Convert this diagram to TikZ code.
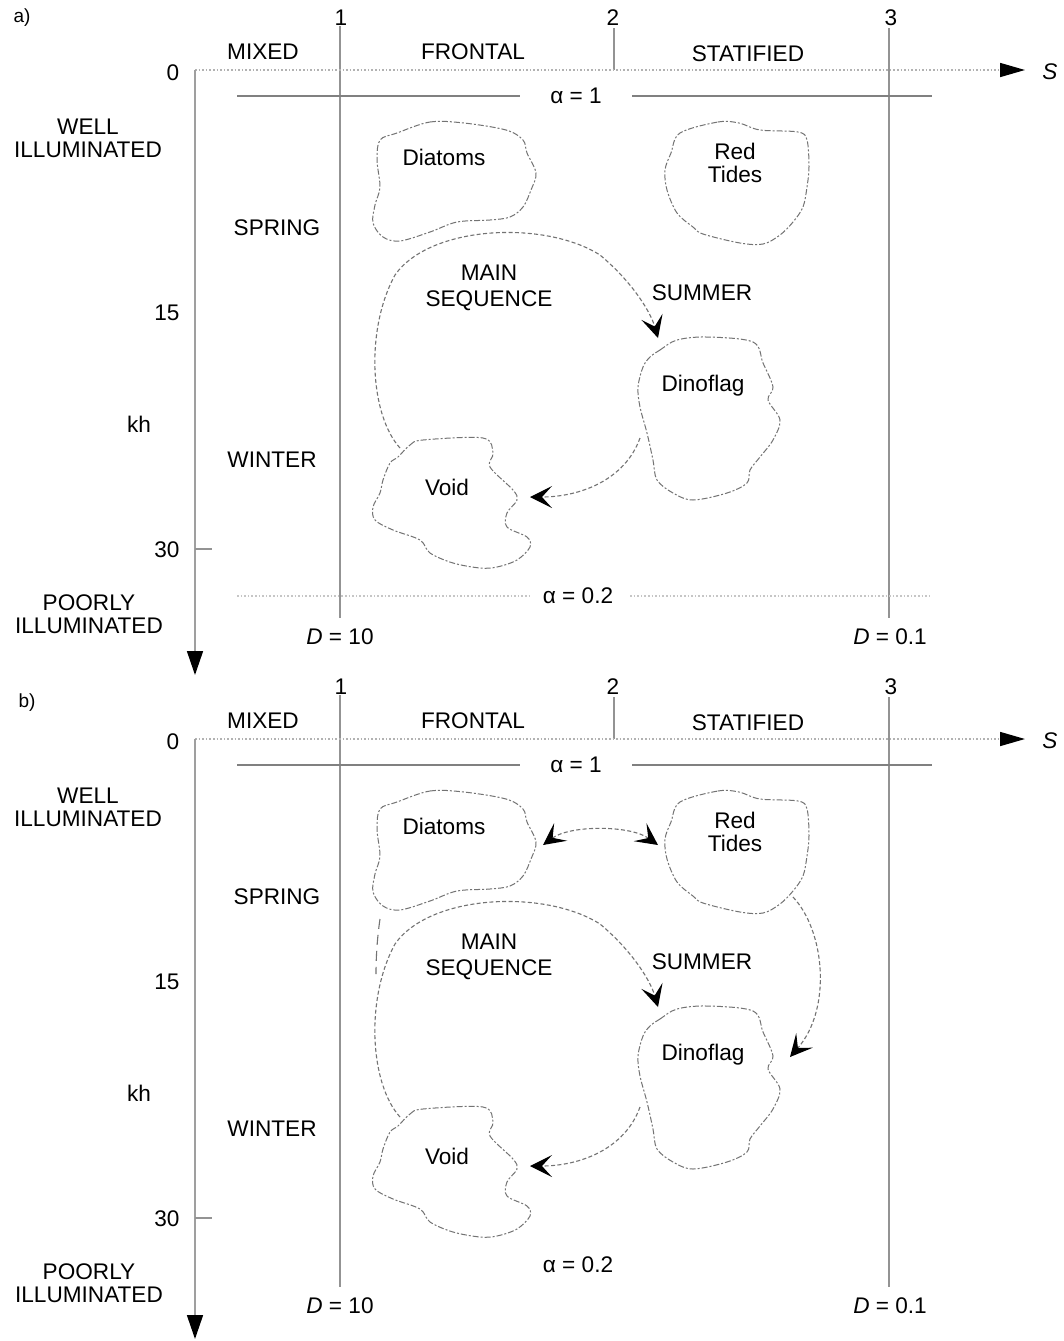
\documentclass[tikz,border=0pt]{standalone}
\usepackage{fontspec}
\setmainfont{Liberation Sans}
\usetikzlibrary{arrows.meta}
\tikzset{
  lab/.style={font=\fontsize{11.3}{11.5}\selectfont, inner sep=0pt, align=center},
  small/.style={font=\fontsize{9.5}{10}\selectfont, inner sep=0pt},
  gridline/.style={draw=gray!85, line width=0.6pt},
  axdot/.style={draw=gray!60, line width=0.8pt, densely dotted},
  axsolid/.style={draw=gray!75, line width=0.8pt},
  blob/.style={draw=gray!90!black, line width=0.5pt, dash pattern=on 3pt off 1pt on 1pt off 1pt},
  vtip/.tip={Stealth[length=11pt,width=11pt,inset=5pt,line width=0.6pt,color=black]},
  flow/.style={draw=gray!90!black, line width=0.55pt, dash pattern=on 2pt off 1.2pt},
}
\newcommand\drawpanel[5]{%
  % #1 suffix, #2 panel label, #3,#4 label position, #5 axis end
  \node[small] (pl#1) at (#3,#4) {#2};
  \node[lab] (n1#1) at (341,18) {1};
  \node[lab] (n2#1) at (613,18) {2};
  \node[lab] (n3#1) at (891,18) {3};
  \node[lab] (mixed#1) at (263,52) {MIXED};
  \node[lab] (frontal#1) at (473,52) {FRONTAL};
  \node[lab] (strat#1) at (748,54) {STATIFIED};
  \node[lab] (zero#1) at (173,73) {0};
  \node[lab] (fifteen#1) at (167,313) {15};
  \node[lab] (thirty#1) at (167,550) {30};
  \node[lab] (kh#1) at (139,424) {kh};
  \node[lab] (well#1) at (88,138) {WELL\\ILLUMINATED};
  \node[lab] (poor#1) at (89,614) {POORLY\\ILLUMINATED};
  \node[lab] (spring#1) at (277,228) {SPRING};
  \node[lab] (winter#1) at (272,460) {WINTER};
  \node[lab] (summer#1) at (702,293) {SUMMER};
  \node[lab, font=\fontsize{11.3}{13}\selectfont] (mainseq#1) at (489,288) {MAIN\\SEQUENCE};
  \node[lab] (d10#1) at (340,637) {\textit{D} = 10};
  \node[lab] (d01#1) at (890,637) {\textit{D} = 0.1};
  \node[lab] (S#1) at (1050,72) {\textit{S}};
  \node[lab] (a1#1) at (576,96) {α = 1};
  \node[lab] (a02#1) at (578,596) {α = 0.2};
  % grid lines
  \coordinate (g1t#1) at (340,26); \coordinate (g1b#1) at (340,618);
  \coordinate (g2t#1) at (614,28); \coordinate (g2b#1) at (614,70);
  \coordinate (g3t#1) at (889,28); \coordinate (g3b#1) at (889,618);
  \draw[gridline] (g1t#1) -- (g1b#1);
  \draw[gridline] (g2t#1) -- (g2b#1);
  \draw[gridline] (g3t#1) -- (g3b#1);
  % axes
  \coordinate (O#1) at (195,70);
  \coordinate (Sx#1) at (1025,70);
  \coordinate (Ky#1) at (195,#5);
  \draw[axdot, -{Triangle[length=12.5pt,width=7pt,color=black]}] (O#1) -- (Sx#1);
  \draw[axsolid, -{Triangle[length=12pt,width=8pt,color=black]}] (O#1) -- (Ky#1);
  \coordinate (t30a#1) at (195,549); \coordinate (t30b#1) at (212,549);
  \draw[gridline] (t30a#1) -- (t30b#1);
  % alpha = 1 line
  \coordinate (al1#1) at (237,96); \coordinate (al2#1) at (520,96);
  \coordinate (al3#1) at (632,96); \coordinate (al4#1) at (932,96);
  \draw[gridline, draw=gray] (al1#1) -- (al2#1) (al3#1) -- (al4#1);
  % blobs
  \draw[blob] plot[smooth cycle, tension=0.55] coordinates {(397,133) (430,122) (464,123) (506,130) (523,140) (527,153) (536,173) (531,190) (523,207) (510,217) (490,220) (457,222) (430,232) (400,241) (383,237) (373,223) (375,205) (380,187) (377,160) (380,140)};
  \draw[blob] plot[smooth cycle, tension=0.55] coordinates {(680,133) (718,122) (739,123) (760,130) (798,132) (807,140) (809,167) (807,187) (803,207) (793,222) (780,235) (763,244) (740,243) (703,234) (693,227) (677,213) (667,190) (665,170) (671,153)};
  \draw[blob] plot[smooth cycle, tension=0.55] coordinates {(650,357) (660,350) (677,340) (707,337) (753,342) (763,363) (773,387) (768,400) (780,420) (773,440) (760,457) (750,470) (747,483) (727,493) (693,500) (673,493) (657,480) (653,460) (647,433) (640,407) (638,387) (643,367)};
  \draw[blob] plot[smooth cycle, tension=0.55] coordinates {(398,457) (410,445) (423,440) (483,438) (493,453) (490,467) (513,490) (517,500) (507,513) (507,527) (527,537) (530,547) (517,560) (497,567) (480,568) (453,563) (430,553) (420,540) (393,530) (375,520) (373,507) (380,493) (383,480) (390,463)};
  \node[lab] (dia#1) at (444,157) {Diatoms};
  \node[lab] (red#1) at (735,163) {Red\\Tides};
  \node[lab] (dino#1) at (703,386) {Dinoflag};
  \node[lab] (void#1) at (447,487) {Void};
  % main sequence
  \coordinate (ms0#1) at (400,448);
  \coordinate (ms1#1) at (658,338);
  \draw[flow, -vtip] (ms0#1) .. controls (370,415) and (365,330) .. (395,275)
     .. controls (430,225) and (545,220) .. (600,255)
     .. controls (630,280) and (650,310) .. (ms1#1);
  \coordinate (dv0#1) at (640,438);
  \coordinate (dv1#1) at (530,497);
  \draw[flow, -vtip] (dv0#1) .. controls (625,480) and (580,497) .. (dv1#1);
}
\begin{document}
\begin{tikzpicture}[x=0.5pt,y=-0.5pt]
\useasboundingbox (0,0) rectangle (1064,1341);
\fill[white] (0,0) rectangle (1064,1341);
\drawpanel{A}{a)}{22}{18}{675}
\coordinate (b1A) at (237,596); \coordinate (b2A) at (530,596);
\coordinate (b3A) at (630,596); \coordinate (b4A) at (932,596);
\draw[axdot, draw=gray!45] (b1A) -- (b2A) (b3A) -- (b4A);
\begin{scope}[shift={(0,669)}]
\drawpanel{B}{b)}{27}{34}{670}
\coordinate (dr0) at (543,176);
\coordinate (dr1) at (658,176);
\draw[flow, vtip-vtip] (dr0) .. controls (570,156) and (630,156) .. (dr1);
\coordinate (rd0) at (793,228);
\coordinate (rd1) at (790,388);
\draw[flow, -vtip] (rd0) .. controls (825,262) and (832,340) .. (rd1);
\coordinate (dl0) at (380,250);
\coordinate (dl1) at (376,305);
\draw[flow, dash pattern=on 5pt off 3pt] (dl0) .. controls (377,270) and (376,290) .. (dl1);
\end{scope}
\end{tikzpicture}
\end{document}
